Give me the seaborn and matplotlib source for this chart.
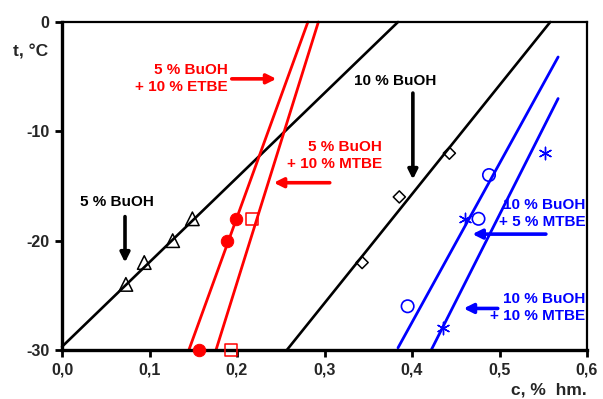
import numpy as np
import pandas as pd
import matplotlib
matplotlib.use("Agg")
import matplotlib.pyplot as plt
import seaborn as sns

# fitted lines, endpoints (c, t)
line_5buoh_c = [0.0, 0.384]
line_5buoh_t = [-29.7, 0.0]
line_10buoh_c = [0.257, 0.558]
line_10buoh_t = [-30.0, 0.0]
line_etbe_c = [0.145, 0.281]
line_etbe_t = [-30.0, 0.0]
line_mtbe10_c = [0.176, 0.293]
line_mtbe10_t = [-30.0, 0.0]
line_b5mtbe_c = [0.384, 0.567]
line_b5mtbe_t = [-29.8, -3.2]
line_b10mtbe_c = [0.422, 0.567]
line_b10mtbe_t = [-30.0, -7.0]

# measured points
tri_c = [0.073, 0.094, 0.1265, 0.149]
tri_t = [-24.0, -22.0, -20.0, -18.0]
redfill_c = [0.157, 0.189, 0.1985]
redfill_t = [-30.0, -20.0, -18.0]
redsq_c = [0.193, 0.217]
redsq_t = [-30.0, -18.0]
diam_c = [0.343, 0.3855, 0.4427]
diam_t = [-22.0, -16.0, -12.0]
bluecirc_c = [0.395, 0.476, 0.488]
bluecirc_t = [-26.0, -18.0, -14.0]
bluestar_c = [0.435, 0.46, 0.552]
bluestar_t = [-28.0, -18.0, -12.0]

xticks = [0.0, 0.1, 0.2, 0.3, 0.4, 0.5, 0.6]
xticklabels = ["0,0", "0,1", "0,2", "0,3", "0,4", "0,5", "0,6"]
yticks = [0, -10, -20, -30]
yticklabels = ["0", "-10", "-20", "-30"]

RED = "#FF0000"
BLUE = "#0000FF"

sns.set_style("white")
plt.rcParams["font.family"] = ["Liberation Sans", "DejaVu Sans"]
plt.rcParams["font.weight"] = "bold"

fig = plt.figure(figsize=(6.03, 3.99), dpi=100)
ax = fig.add_axes([62 / 603, 1 - 350 / 399, 525 / 603, 328 / 399])

lines = [
    (line_5buoh_c, line_5buoh_t, "black", 1.9),
    (line_10buoh_c, line_10buoh_t, "black", 1.9),
    (line_etbe_c, line_etbe_t, RED, 2.0),
    (line_mtbe10_c, line_mtbe10_t, RED, 2.0),
    (line_b5mtbe_c, line_b5mtbe_t, BLUE, 2.0),
    (line_b10mtbe_c, line_b10mtbe_t, BLUE, 2.0),
]
for c, t, col, lw in lines:
    sns.lineplot(x=c, y=t, color=col, lw=lw, ax=ax, sort=False, clip_on=False)

sns.scatterplot(x=tri_c, y=tri_t, marker="^", s=95, facecolor="none",
                edgecolor="black", linewidth=1.1, ax=ax, zorder=3, clip_on=False)
sns.scatterplot(x=redfill_c, y=redfill_t, marker="o", s=80, color=RED,
                edgecolor=RED, ax=ax, zorder=3, clip_on=False)
sns.scatterplot(x=redsq_c, y=redsq_t, marker="s", s=75, facecolor="none",
                edgecolor=RED, linewidth=1.1, ax=ax, zorder=3, clip_on=False)
sns.scatterplot(x=diam_c, y=diam_t, marker="D", s=38, facecolor="none",
                edgecolor="black", linewidth=1.1, ax=ax, zorder=3, clip_on=False)
sns.scatterplot(x=bluecirc_c, y=bluecirc_t, marker="o", s=80, facecolor="none",
                edgecolor=BLUE, linewidth=1.2, ax=ax, zorder=3, clip_on=False)
sns.scatterplot(x=bluestar_c, y=bluestar_t, marker=(6, 2, 0), s=80, color=BLUE,
                linewidth=1.0, ax=ax, zorder=3, clip_on=False)

ax.set_xlim(0, 0.6)
ax.set_ylim(-30, 0)
ax.set_xticks(xticks)
ax.set_xticklabels(xticklabels)
ax.set_yticks(yticks)
ax.set_yticklabels(yticklabels)
ax.tick_params(axis="both", direction="out", length=5, width=2, labelsize=11.5,
               pad=4, color="black", left=True, bottom=True)
for lab in ax.get_xticklabels() + ax.get_yticklabels():
    lab.set_fontweight("bold")
for side in ["left", "bottom"]:
    ax.spines[side].set_linewidth(2.4)
    ax.spines[side].set_color("black")
for side in ["top", "right"]:
    ax.spines[side].set_linewidth(1.6)
    ax.spines[side].set_color("black")
ax.set_xlabel("")
ax.set_ylabel("")

fs = 11
ls = 1.25
arrow = dict(arrowstyle="-|>", lw=2.6, mutation_scale=14, shrinkA=0, shrinkB=0)

# labels and arrows
ax.text(0.189, -5.2, "5 % BuOH\n+ 10 % ETBE", color=RED, fontsize=fs,
        fontweight="bold", ha="right", va="center", multialignment="right",
        linespacing=ls)
ax.annotate("", xy=(0.245, -5.2), xytext=(0.194, -5.2),
            arrowprops=dict(arrow, color=RED))

ax.text(0.366, -12.2, "5 % BuOH\n+ 10 % MTBE", color=RED, fontsize=fs,
        fontweight="bold", ha="right", va="center", multialignment="right",
        linespacing=ls)
ax.annotate("", xy=(0.242, -14.7), xytext=(0.306, -14.7),
            arrowprops=dict(arrow, color=RED))

ax.text(0.381, -5.4, "10 % BuOH", color="black", fontsize=fs,
        fontweight="bold", ha="center", va="center")
ax.annotate("", xy=(0.401, -14.4), xytext=(0.401, -6.5),
            arrowprops=dict(arrow, color="black"))

ax.text(0.063, -16.5, "5 % BuOH", color="black", fontsize=fs,
        fontweight="bold", ha="center", va="center")
ax.annotate("", xy=(0.072, -22.0), xytext=(0.072, -17.8),
            arrowprops=dict(arrow, color="black"))

ax.text(0.598, -17.5, "10 % BuOH\n+ 5 % MTBE", color=BLUE, fontsize=fs,
        fontweight="bold", ha="right", va="center", multialignment="right",
        linespacing=ls)
ax.annotate("", xy=(0.469, -19.4), xytext=(0.553, -19.4),
            arrowprops=dict(arrow, color=BLUE))

ax.text(0.598, -26.1, "10 % BuOH\n+ 10 % MTBE", color=BLUE, fontsize=fs,
        fontweight="bold", ha="right", va="center", multialignment="right",
        linespacing=ls)
ax.annotate("", xy=(0.459, -26.2), xytext=(0.498, -26.2),
            arrowprops=dict(arrow, color=BLUE))

fig.text(48 / 603, 1 - 51.7 / 399, "t, °C", fontsize=12.5, fontweight="bold",
         ha="right", va="center")
fig.text(587 / 603, 1 - 390 / 399, "c, %  hm.", fontsize=12.5, fontweight="bold",
         ha="right", va="center")

fig.savefig("out.png", dpi=100)
